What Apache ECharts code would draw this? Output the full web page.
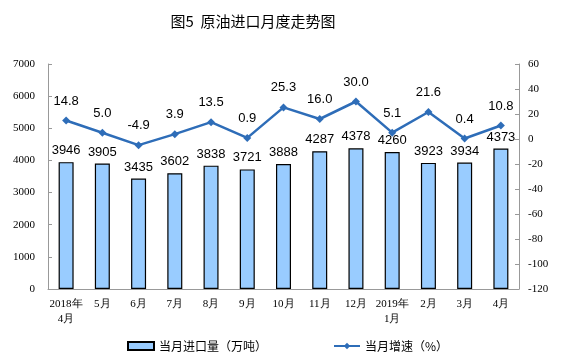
<!DOCTYPE html>
<html><head><meta charset="utf-8">
<script src="https://cdn.jsdelivr.net/npm/echarts@6/dist/echarts.min.js"></script>
<style>html,body{margin:0;padding:0;background:#fff}#c{width:561px;height:357px}</style>
</head><body><div id="c"></div>
<script>
const categories = ['2018年\n4月','5月','6月','7月','8月','9月','10月','11月','12月','2019年\n1月','2月','3月','4月'];
const imports = [3946,3905,3435,3602,3838,3721,3888,4287,4378,4260,3923,3934,4373];
const growth = [14.8,5.0,-4.9,3.9,13.5,0.9,25.3,16.0,30.0,5.1,21.6,0.4,10.8];
const leftTicks = {min:0,max:7000,interval:1000};
const rightTicks = {min:-120,max:60,interval:20};

const chart = echarts.init(document.getElementById('c'));
const axisFont = {fontFamily:'Liberation Serif',fontSize:11,color:'#000'};
chart.setOption({
  animation:false,
  title:{text:'图5  原油进口月度走势图',left:248,textAlign:'center',top:9,
    textStyle:{fontFamily:'Noto Sans CJK SC',fontSize:15,fontWeight:'normal',color:'#000'}},
  grid:{left:48,right:42,top:64,bottom:68},
  legend:{bottom:0,left:122,itemGap:66,itemWidth:26,itemHeight:8,
    textStyle:{fontFamily:'Noto Sans CJK SC',fontSize:12,color:'#000'},
    data:[{name:'当月进口量（万吨）',icon:'rect'},{name:'当月增速（%）'}]},
  xAxis:{type:'category',data:categories,
    axisLine:{lineStyle:{color:'#999'}},
    axisTick:{inside:true,length:4,lineStyle:{color:'#999'}},
    axisLabel:Object.assign({interval:0,margin:8,lineHeight:15},axisFont)},
  yAxis:[
    {type:'value',min:leftTicks.min,max:leftTicks.max,interval:leftTicks.interval,
     splitLine:{show:false},axisLine:{show:true,lineStyle:{color:'#999'}},
     axisTick:{show:true,inside:true,length:4,lineStyle:{color:'#999'}},
     axisLabel:Object.assign({margin:13,formatter:v=>String(v)},axisFont)},
    {type:'value',min:rightTicks.min,max:rightTicks.max,interval:rightTicks.interval,
     splitLine:{show:false},axisLine:{show:true,lineStyle:{color:'#999'}},
     axisTick:{show:true,inside:true,length:4,lineStyle:{color:'#999'}},
     axisLabel:Object.assign({margin:9,formatter:v=>String(v)},axisFont)}
  ],
  series:[
    {name:'当月进口量（万吨）',type:'bar',data:imports,barWidth:15,
     itemStyle:{color:'#99CCFF',borderColor:'#000',borderWidth:1.2},
     label:{show:true,position:'top',distance:5,fontFamily:'Liberation Sans',fontSize:13,color:'#000'}},
    {name:'当月增速（%）',type:'line',yAxisIndex:1,data:growth,
     symbol:'diamond',symbolSize:8,
     lineStyle:{color:'#2E6DB8',width:2.5},itemStyle:{color:'#2E6DB8'},
     label:{show:true,position:'top',distance:9,fontFamily:'Liberation Sans',fontSize:13,color:'#000',
       formatter:p=>p.value.toFixed(1)}}
  ]
});
</script></body></html>
